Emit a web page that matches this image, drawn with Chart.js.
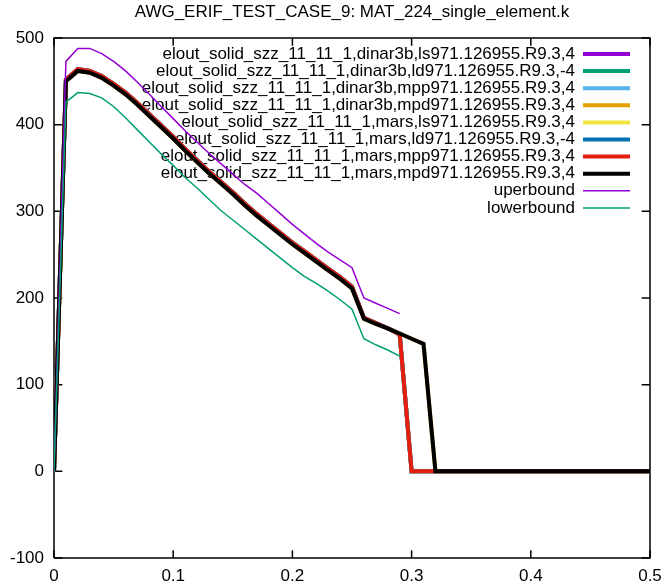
<!DOCTYPE html>
<html>
<head>
<meta charset="utf-8">
<script src="https://cdn.jsdelivr.net/npm/chart.js@4.4.1/dist/chart.umd.min.js"></script>
<style>
  html, body { margin: 0; padding: 0; background: #fff; }
  #wrap { width: 665px; height: 588px; }
</style>
</head>
<body>
<div id="wrap"><canvas id="chart" width="665" height="588"></canvas></div>
<script>
// x positions shared by every curve
const xValues = [0, 0.01, 0.02, 0.03, 0.04, 0.05, 0.06, 0.07, 0.08, 0.09,
  0.10, 0.11, 0.12, 0.13, 0.14, 0.15, 0.16, 0.17, 0.18, 0.19,
  0.20, 0.21, 0.22, 0.23, 0.24, 0.25, 0.26, 0.27, 0.28, 0.29,
  0.30, 0.31, 0.32, 0.5];

const marsMpp = [0, 452, 464, 462, 456, 447, 437, 425, 412, 399,
  386, 372, 359, 346, 334, 322, 309, 297, 286, 275,
  264, 254, 244, 234, 224, 213, 177, 171, 165, 158,
  0, 0, 0, 0];

const marsMpd = [0, 450, 462, 460, 454, 445, 435, 423, 410, 397,
  384, 370, 357, 344, 332, 320, 307, 295, 284, 273,
  262, 252, 242, 232, 222, 211, 176, 170, 165, 159,
  153, 147, 0, 0];

const upperBound = [0, 473, 488, 488, 482, 473, 462, 449, 435, 421,
  407, 393, 380, 367, 355, 343, 331, 321, 309, 297,
  285, 274, 263, 253, 244, 235, 200, 194, 188, 182,
  null, null, null, null];

const lowerBound = [0, 426, 437, 436, 431, 421, 408, 394, 380, 366,
  353, 339, 327, 314, 301, 290, 279, 268, 257, 246,
  235, 225, 217, 208, 198, 187, 153, 146, 140, 133,
  null, null, null, null];

const seriesLabels = [
  "elout_solid_szz_11_11_1,dinar3b,ls971.126955.R9.3,4",
  "elout_solid_szz_11_11_1,dinar3b,ld971.126955.R9.3,-4",
  "elout_solid_szz_11_11_1,dinar3b,mpp971.126955.R9.3,4",
  "elout_solid_szz_11_11_1,dinar3b,mpd971.126955.R9.3,4",
  "elout_solid_szz_11_11_1,mars,ls971.126955.R9.3,4",
  "elout_solid_szz_11_11_1,mars,ld971.126955.R9.3,-4",
  "elout_solid_szz_11_11_1,mars,mpp971.126955.R9.3,4",
  "elout_solid_szz_11_11_1,mars,mpd971.126955.R9.3,4",
  "uperbound",
  "lowerbound"
];
const seriesValues = [marsMpp, marsMpp, marsMpp, marsMpd, marsMpp, marsMpp, marsMpp, marsMpd, upperBound, lowerBound];
const seriesColors = ["#9400d3", "#009e73", "#56b4e9", "#e69f00", "#f0e442", "#0072b2", "#e51e10", "#000000", "#9400d3", "#009e73"];
const seriesWidths = [4, 4, 4, 4, 4, 4, 4, 4, 1.5, 1.5];

const xTicks = [0, 0.1, 0.2, 0.3, 0.4, 0.5];
const yTicks = [-100, 0, 100, 200, 300, 400, 500];

const chartTitle = "AWG_ERIF_TEST_CASE_9: MAT_224_single_element.k";
const FONT = "'Liberation Sans', Arial, sans-serif";

const datasets = seriesLabels.map((label, i) => ({
  label: label,
  data: xValues.map((x, j) => ({ x: x, y: seriesValues[i][j] })),
  borderColor: seriesColors[i],
  backgroundColor: seriesColors[i],
  borderWidth: seriesWidths[i],
  pointRadius: 0,
  tension: 0,
  spanGaps: false,
  borderJoinStyle: "miter",
  order: seriesLabels.length - i   // later series on top, like gnuplot
}));

// plot border and inward tick marks as line datasets on the same scales
const xMin = xTicks[0], xMax = xTicks[xTicks.length - 1];
const yMin = yTicks[0], yMax = yTicks[yTicks.length - 1];
const tickY = 9;      // ~8px in y units
const tickX = 0.007;  // ~8px in x units
const frameBox = [
  { x: xMin, y: yMin }, { x: xMax, y: yMin }, { x: xMax, y: yMax }, { x: xMin, y: yMax }, { x: xMin, y: yMin }
];
const frameTicks = [];
xTicks.forEach(v => {
  frameTicks.push({ x: v, y: yMin }, { x: v, y: yMin + tickY }, { x: v, y: null });
  frameTicks.push({ x: v, y: yMax }, { x: v, y: yMax - tickY }, { x: v, y: null });
});
yTicks.forEach(v => {
  frameTicks.push({ x: xMin, y: v }, { x: xMin + tickX, y: v }, { x: xMin, y: null });
  frameTicks.push({ x: xMax, y: v }, { x: xMax - tickX, y: v }, { x: xMax, y: null });
});
[frameBox, frameTicks].forEach(pts => {
  datasets.push({
    frame: true,
    label: "",
    data: pts,
    borderColor: "#000",
    backgroundColor: "#000",
    borderWidth: 1.5,
    pointRadius: 0,
    tension: 0,
    spanGaps: false,
    clip: 4,
    borderJoinStyle: "miter",
    order: 100
  });
});

// title and gnuplot key (right aligned text, sample line on the right)
const gnuplotKey = {
  id: "gnuplotKey",
  beforeDatasetsDraw(chart) {
    const ctx = chart.ctx;
    const area = chart.chartArea;
    ctx.save();
    ctx.font = "17px " + FONT;
    ctx.fillStyle = "#000";
    ctx.textBaseline = "middle";
    ctx.textAlign = "center";
    ctx.fillText(chartTitle, (area.left + area.right) / 2, 12);

    ctx.textAlign = "right";
    chart.data.datasets.filter(ds => !ds.frame).forEach((ds, i) => {
      const y = 54 + i * 17.1;
      ctx.fillStyle = "#000";
      ctx.fillText(ds.label, 575, y);
      ctx.strokeStyle = ds.borderColor;
      ctx.lineWidth = ds.borderWidth;
      ctx.beginPath();
      ctx.moveTo(583, y);
      ctx.lineTo(630, y);
      ctx.stroke();
    });
    ctx.restore();
  }
};

new Chart(document.getElementById("chart"), {
  type: "line",
  data: { datasets: datasets },
  options: {
    responsive: false,
    animation: false,
    layout: { autoPadding: false, padding: { top: 38, right: 15, left: 0, bottom: 0 } },
    plugins: {
      legend: { display: false },
      title: { display: false },
      tooltip: { enabled: false }
    },
    scales: {
      x: {
        type: "linear",
        min: xMin,
        max: xMax,
        grid: { display: false, drawTicks: false },
        border: { display: false },
        afterFit: s => { s.height = 30; s.paddingLeft = 0; s.paddingRight = 0; },
        afterBuildTicks: s => { s.ticks = xTicks.map(v => ({ value: v })); },
        ticks: {
          padding: 8,
          color: "#000",
          maxRotation: 0,
          font: { family: FONT, size: 17 },
          callback: v => String(Number(v.toFixed(2)))
        }
      },
      y: {
        min: yMin,
        max: yMax,
        grid: { display: false, drawTicks: false },
        border: { display: false },
        afterFit: s => { s.width = 54; },
        afterBuildTicks: s => { s.ticks = yTicks.map(v => ({ value: v })); },
        ticks: {
          padding: 10,
          color: "#000",
          font: { family: FONT, size: 17 }
        }
      }
    }
  },
  plugins: [gnuplotKey]
});
</script>
</body>
</html>
